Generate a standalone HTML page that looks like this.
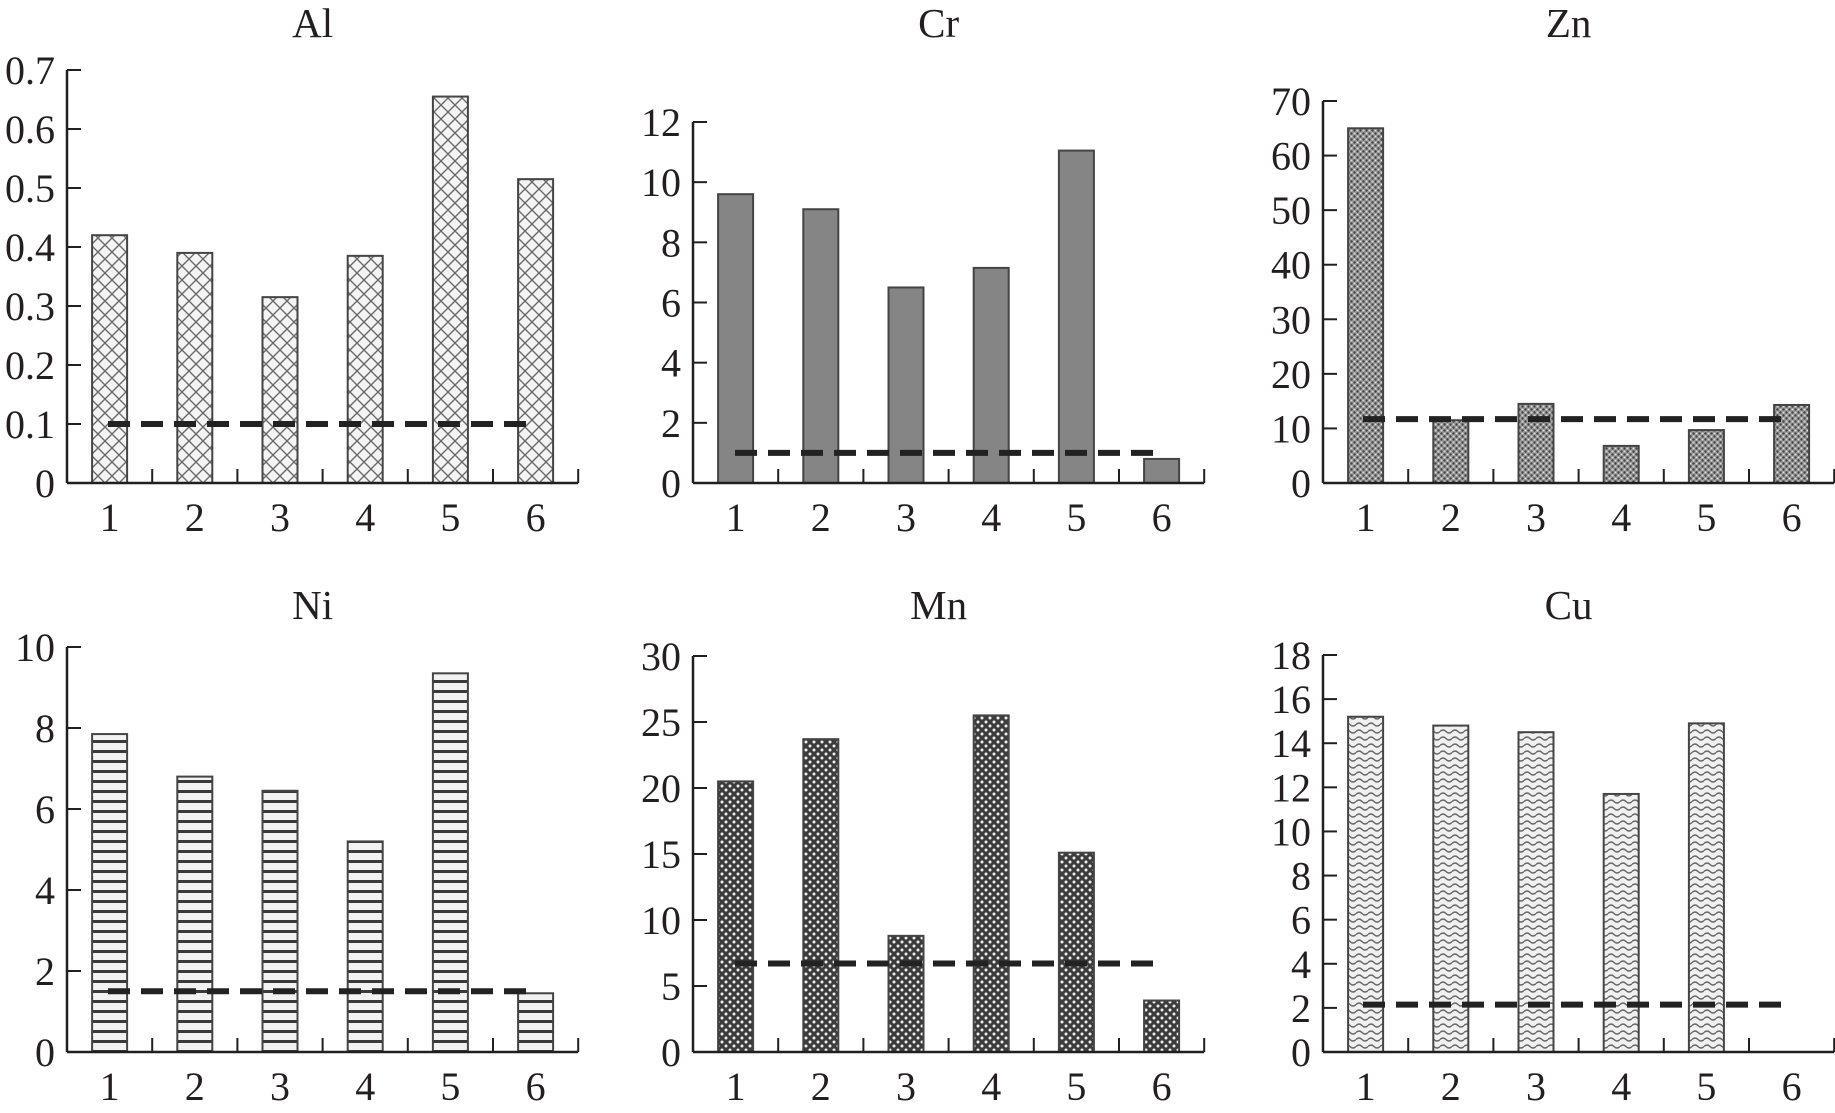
<!DOCTYPE html>
<html><head><meta charset="utf-8">
<style>
html,body{margin:0;padding:0;background:#fff;}
svg{display:block;}
text{font-family:"Liberation Serif",serif;fill:#231f20;}
</style></head>
<body>
<svg id="chart" width="1835" height="1113" viewBox="0 0 1835 1113" xmlns="http://www.w3.org/2000/svg">
<defs>
<pattern id="p-cross" width="14" height="14" patternUnits="userSpaceOnUse">
<rect width="14" height="14" fill="#f4f4f4"/>
<path d="M0 0L14 14M14 0L0 14" stroke="#6a6a6a" stroke-width="1.4"/>
</pattern>
<pattern id="p-dots" width="6" height="6" patternUnits="userSpaceOnUse">
<rect width="6" height="6" fill="#9a9a9a"/>
<circle cx="1.5" cy="1.5" r="1.2" fill="#444"/><circle cx="4.5" cy="4.5" r="1.2" fill="#444"/>
<circle cx="4.5" cy="1.5" r="0.9" fill="#ddd"/><circle cx="1.5" cy="4.5" r="0.9" fill="#ddd"/>
</pattern>
<pattern id="p-stripes" width="10" height="10" patternUnits="userSpaceOnUse">
<rect width="10" height="10" fill="#f2f2f2"/>
<rect y="0" width="10" height="3" fill="#3a3a3a"/>
</pattern>
<pattern id="p-check" width="8" height="8" patternUnits="userSpaceOnUse">
<rect width="8" height="8" fill="#3c3c3c"/>
<circle cx="2" cy="2" r="1.5" fill="#eee"/><circle cx="6" cy="6" r="1.5" fill="#eee"/>
</pattern>
<pattern id="p-wave" width="12" height="7" patternUnits="userSpaceOnUse">
<rect width="12" height="7" fill="#f0f0f0"/>
<path d="M0 3.5Q3 0.5 6 3.5T12 3.5" stroke="#666" stroke-width="1.4" fill="none"/>
</pattern>
</defs>
<g id="root"></g>
</svg>
<script>
const categories = ["1","2","3","4","5","6"];
const alValues = [0.42, 0.39, 0.315, 0.385, 0.655, 0.515];
const crValues = [9.6, 9.1, 6.5, 7.15, 11.05, 0.8];
const znValues = [65, 11.5, 14.5, 6.8, 9.7, 14.3];
const niValues = [7.85, 6.8, 6.45, 5.2, 9.35, 1.45];
const mnValues = [20.5, 23.7, 8.8, 25.5, 15.1, 3.9];
const cuValues = [15.2, 14.8, 14.5, 11.7, 14.9, 0];
const alTicks = ["0","0.1","0.2","0.3","0.4","0.5","0.6","0.7"];
const crTicks = ["0","2","4","6","8","10","12"];
const znTicks = ["0","10","20","30","40","50","60","70"];
const niTicks = ["0","2","4","6","8","10"];
const mnTicks = ["0","5","10","15","20","25","30"];
const cuTicks = ["0","2","4","6","8","10","12","14","16","18"];
const limits = [0.1, 1.0, 11.7, 1.5, 6.7, 2.15];

const NS = "http://www.w3.org/2000/svg";
const root = document.getElementById("root");
function mk(tag, attrs, parent){
  const e = document.createElementNS(NS, tag);
  for (const k in attrs) e.setAttribute(k, attrs[k]);
  (parent||root).appendChild(e);
  return e;
}
const panels = [
  {name:"al", title:"Al", vals:alValues, ticks:alTicks, x0:67, y0:483, ytop:70, fill:"url(#p-cross)", lim:limits[0], lx0:108, lx1:536, ty:23},
  {name:"cr", title:"Cr", vals:crValues, ticks:crTicks, x0:693, y0:483, ytop:122, fill:"#858585", lim:limits[1], lx0:735, lx1:1161, ty:23},
  {name:"zn", title:"Zn", vals:znValues, ticks:znTicks, x0:1323, y0:483, ytop:101, fill:"url(#p-dots)", lim:limits[2], lx0:1363, lx1:1790, ty:23},
  {name:"ni", title:"Ni", vals:niValues, ticks:niTicks, x0:67, y0:1052, ytop:647, fill:"url(#p-stripes)", lim:limits[3], lx0:108, lx1:536, ty:605},
  {name:"mn", title:"Mn", vals:mnValues, ticks:mnTicks, x0:693, y0:1052, ytop:656, fill:"url(#p-check)", lim:limits[4], lx0:735, lx1:1161, ty:605},
  {name:"cu", title:"Cu", vals:cuValues, ticks:cuTicks, x0:1323, y0:1052, ytop:655, fill:"url(#p-wave)", lim:limits[5], lx0:1363, lx1:1792, ty:605}
];
const band = 85.2, barW = 35;
panels.forEach(p => {
  const g = mk("g", {});
  
  
  const maxV = parseFloat(p.ticks[p.ticks.length-1]);
  const y = v => p.y0 - (v / maxV) * (p.y0 - p.ytop);
  const xc = i => p.x0 + band * (i + 0.5);
  const t = mk("text", {x: p.x0 + 3*band - 10, y: p.ty + 14, "font-size": 41, "text-anchor": "middle"}, g);
  t.textContent = p.title;
  
  
  p.vals.forEach((v, i) => {
    if (v <= 0) return;
    const r = mk("rect", {x: xc(i) - barW/2, y: y(v), width: barW, height: p.y0 - y(v), fill: p.fill, stroke: "#444", "stroke-width": 2}, g);
    
    
  });
  const dl = mk("line", {x1: p.lx0, x2: p.lx1, y1: y(p.lim), y2: y(p.lim), stroke: "#222", "stroke-width": 6, "stroke-dasharray": "22 11"}, g);
  
  
  const ya = mk("line", {x1: p.x0, x2: p.x0, y1: p.ytop, y2: p.y0, stroke: "#231f20", "stroke-width": 2.5}, g);
  
  
  const xa = mk("line", {x1: p.x0, x2: p.x0 + 6*band, y1: p.y0, y2: p.y0, stroke: "#231f20", "stroke-width": 2.5}, g);
  
  
  p.ticks.forEach(tk => {
    const v = parseFloat(tk), yy = y(v);
    mk("line", {x1: p.x0, x2: p.x0 + 14, y1: yy, y2: yy, stroke: "#231f20", "stroke-width": 2}, g);
    const tl = mk("text", {x: p.x0 - 12, y: yy + 14, "font-size": 40, "text-anchor": "end"}, g);
    tl.textContent = tk;
    
    
  });
  for (let i = 1; i <= 6; i++) {
    mk("line", {x1: p.x0 + band*i, x2: p.x0 + band*i, y1: p.y0, y2: p.y0 - 14, stroke: "#231f20", "stroke-width": 2}, g);
  }
  categories.forEach((c, i) => {
    const xl = mk("text", {x: xc(i), y: p.y0 + 48, "font-size": 40, "text-anchor": "middle"}, g);
    xl.textContent = c;
    
    
  });
});
</script>
</body></html>
